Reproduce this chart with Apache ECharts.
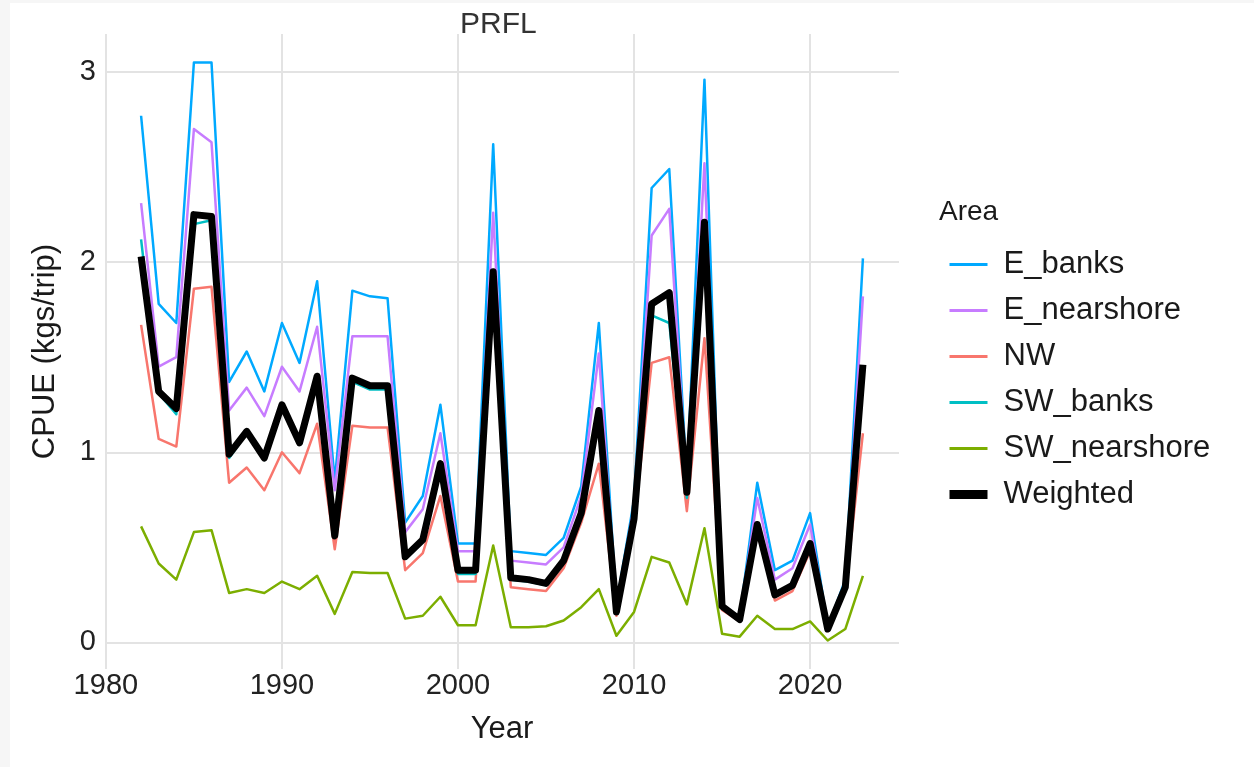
<!DOCTYPE html>
<html>
<head>
<meta charset="utf-8">
<script src="https://cdn.jsdelivr.net/npm/echarts@6/dist/echarts.min.js"></script>
<style>
  html, body { margin: 0; padding: 0; background: #ffffff; }
  #chart { width: 1254px; height: 767px; box-shadow: inset 10px 3px 0 #f6f6f6; }
</style>
</head>
<body>
<div id="chart"></div>
<script>
// years and CPUE per area
var years = [1982, 1983, 1984, 1985, 1986, 1987, 1988, 1989, 1990, 1991,
  1992, 1993, 1994, 1995, 1996, 1997, 1998, 1999, 2000, 2001,
  2002, 2003, 2004, 2005, 2006, 2007, 2008, 2009, 2010, 2011,
  2012, 2013, 2014, 2015, 2016, 2017, 2018, 2019, 2020, 2021,
  2022, 2023];

var eBanks = [2.77, 1.78, 1.68, 3.05, 3.05, 1.37, 1.53, 1.32, 1.68, 1.47,
  1.90, 0.85, 1.85, 1.82, 1.81, 0.63, 0.77, 1.25, 0.52, 0.52,
  2.62, 0.48, 0.47, 0.46, 0.55, 0.82, 1.68, 0.20, 0.75, 2.39,
  2.49, 0.85, 2.96, 0.20, 0.13, 0.84, 0.38, 0.43, 0.68, 0.08,
  0.33, 2.02];

var eNearshore = [2.31, 1.45, 1.50, 2.70, 2.63, 1.22, 1.34, 1.19, 1.45, 1.32,
  1.66, 0.80, 1.61, 1.61, 1.61, 0.58, 0.70, 1.10, 0.48, 0.48,
  2.26, 0.43, 0.42, 0.41, 0.50, 0.77, 1.52, 0.18, 0.72, 2.14,
  2.28, 0.82, 2.52, 0.19, 0.13, 0.76, 0.33, 0.39, 0.62, 0.08,
  0.31, 1.82];

var nw = [1.67, 1.07, 1.03, 1.86, 1.87, 0.84, 0.92, 0.80, 1.00, 0.89,
  1.15, 0.49, 1.14, 1.13, 1.13, 0.38, 0.47, 0.77, 0.32, 0.32,
  1.80, 0.29, 0.28, 0.27, 0.39, 0.63, 0.94, 0.14, 0.62, 1.47,
  1.50, 0.69, 1.60, 0.17, 0.11, 0.58, 0.22, 0.27, 0.48, 0.06,
  0.27, 1.10];

var swBanks = [2.12, 1.31, 1.20, 2.20, 2.22, 0.97, 1.10, 0.96, 1.24, 1.04,
  1.38, 0.55, 1.37, 1.33, 1.33, 0.44, 0.53, 0.92, 0.36, 0.36,
  1.92, 0.33, 0.32, 0.30, 0.42, 0.67, 1.20, 0.16, 0.64, 1.72,
  1.68, 0.76, 2.15, 0.18, 0.11, 0.60, 0.24, 0.29, 0.50, 0.07,
  0.28, 1.40];

var swNearshore = [0.61, 0.415, 0.33, 0.58, 0.59, 0.26, 0.28, 0.26, 0.32, 0.28,
  0.35, 0.15, 0.37, 0.365, 0.365, 0.125, 0.14, 0.24, 0.09, 0.09,
  0.51, 0.08, 0.08, 0.085, 0.115, 0.185, 0.28, 0.035, 0.16, 0.45,
  0.42, 0.20, 0.60, 0.045, 0.03, 0.14, 0.07, 0.07, 0.11, 0.01,
  0.07, 0.35];

var weighted = [2.03, 1.32, 1.23, 2.25, 2.24, 0.99, 1.11, 0.97, 1.25, 1.05,
  1.40, 0.56, 1.39, 1.35, 1.35, 0.45, 0.54, 0.94, 0.38, 0.38,
  1.95, 0.34, 0.33, 0.31, 0.43, 0.68, 1.22, 0.16, 0.65, 1.78,
  1.84, 0.79, 2.21, 0.19, 0.12, 0.62, 0.25, 0.30, 0.52, 0.07,
  0.29, 1.46];

var xTicks = [1980, 1990, 2000, 2010, 2020];
var yTicks = [0, 1, 2, 3];

var areaNames = ['E_banks', 'E_nearshore', 'NW', 'SW_banks', 'SW_nearshore', 'Weighted'];
var areaValues = [eBanks, eNearshore, nw, swBanks, swNearshore, weighted];
var areaColors = ['#00A9FF', '#C77CFF', '#F8766D', '#00BFC4', '#7CAE00', '#000000'];

var fontName = '"Liberation Sans", Arial, sans-serif';

var myCharts = echarts.init(document.getElementById('chart'));

var seriesList = [];
var legendData = [];
areaNames.forEach(function (name, i) {
  var heavy = name === 'Weighted';
  seriesList.push({
    name: name,
    type: 'line',
    symbol: 'none',
    data: years.map(function (y, k) { return [y, areaValues[i][k]]; }),
    lineStyle: {
      color: areaColors[i],
      width: heavy ? 7 : 2.5,
      join: 'round'
    },
    itemStyle: { color: areaColors[i] }
  });
  legendData.push({
    name: name,
    lineStyle: { width: heavy ? 9 : 3 }
  });
});

var option = {
  animation: false,
  title: [{
    text: 'PRFL',
    left: 455,
    top: 5,
    textStyle: { fontFamily: fontName, fontSize: 30, fontWeight: 'normal', color: '#333333' }
  }, {
    text: 'Area',
    left: 934,
    top: 193,
    textStyle: { fontFamily: fontName, fontSize: 28, fontWeight: 'normal', color: '#1a1a1a' }
  }],
  legend: {
    orient: 'vertical',
    left: 945,
    top: 249,
    padding: 0,
    itemWidth: 38,
    itemHeight: 14,
    itemGap: 15,
    data: legendData,
    itemStyle: { opacity: 0 },
    textStyle: { fontFamily: fontName, fontSize: 31, color: '#1a1a1a', padding: [0, 0, 0, 11] }
  },
  grid: {
    left: 105,
    right: 355,
    top: 34,
    bottom: 98,
    containLabel: false
  },
  xAxis: {
    type: 'value',
    min: 1979.95,
    max: 2025.05,
    name: 'Year',
    nameLocation: 'middle',
    nameGap: 45,
    nameTextStyle: { fontFamily: fontName, fontSize: 31, color: '#1a1a1a' },
    axisLine: { show: false },
    axisTick: { show: false, customValues: xTicks },
    axisLabel: {
      customValues: xTicks,
      margin: 2,
      fontFamily: fontName,
      fontSize: 29,
      color: '#222222',
      formatter: function (v) { return String(v); }
    },
    splitLine: { show: true, lineStyle: { color: '#e3e3e3', width: 2 } }
  },
  yAxis: {
    type: 'value',
    min: -0.14,
    max: 3.2,
    name: 'CPUE (kgs/trip)',
    nameLocation: 'middle',
    nameGap: 44,
    nameRotate: 90,
    nameTextStyle: { fontFamily: fontName, fontSize: 31, color: '#1a1a1a' },
    axisLine: { show: false },
    axisTick: { show: false, customValues: yTicks },
    axisLabel: {
      customValues: yTicks,
      margin: 9,
      fontFamily: fontName,
      fontSize: 29,
      color: '#222222',
      formatter: function (v) { return String(v); }
    },
    splitLine: { show: true, lineStyle: { color: '#e3e3e3', width: 2 } }
  },
  series: seriesList
};

myCharts.setOption(option);
</script>
</body>
</html>
